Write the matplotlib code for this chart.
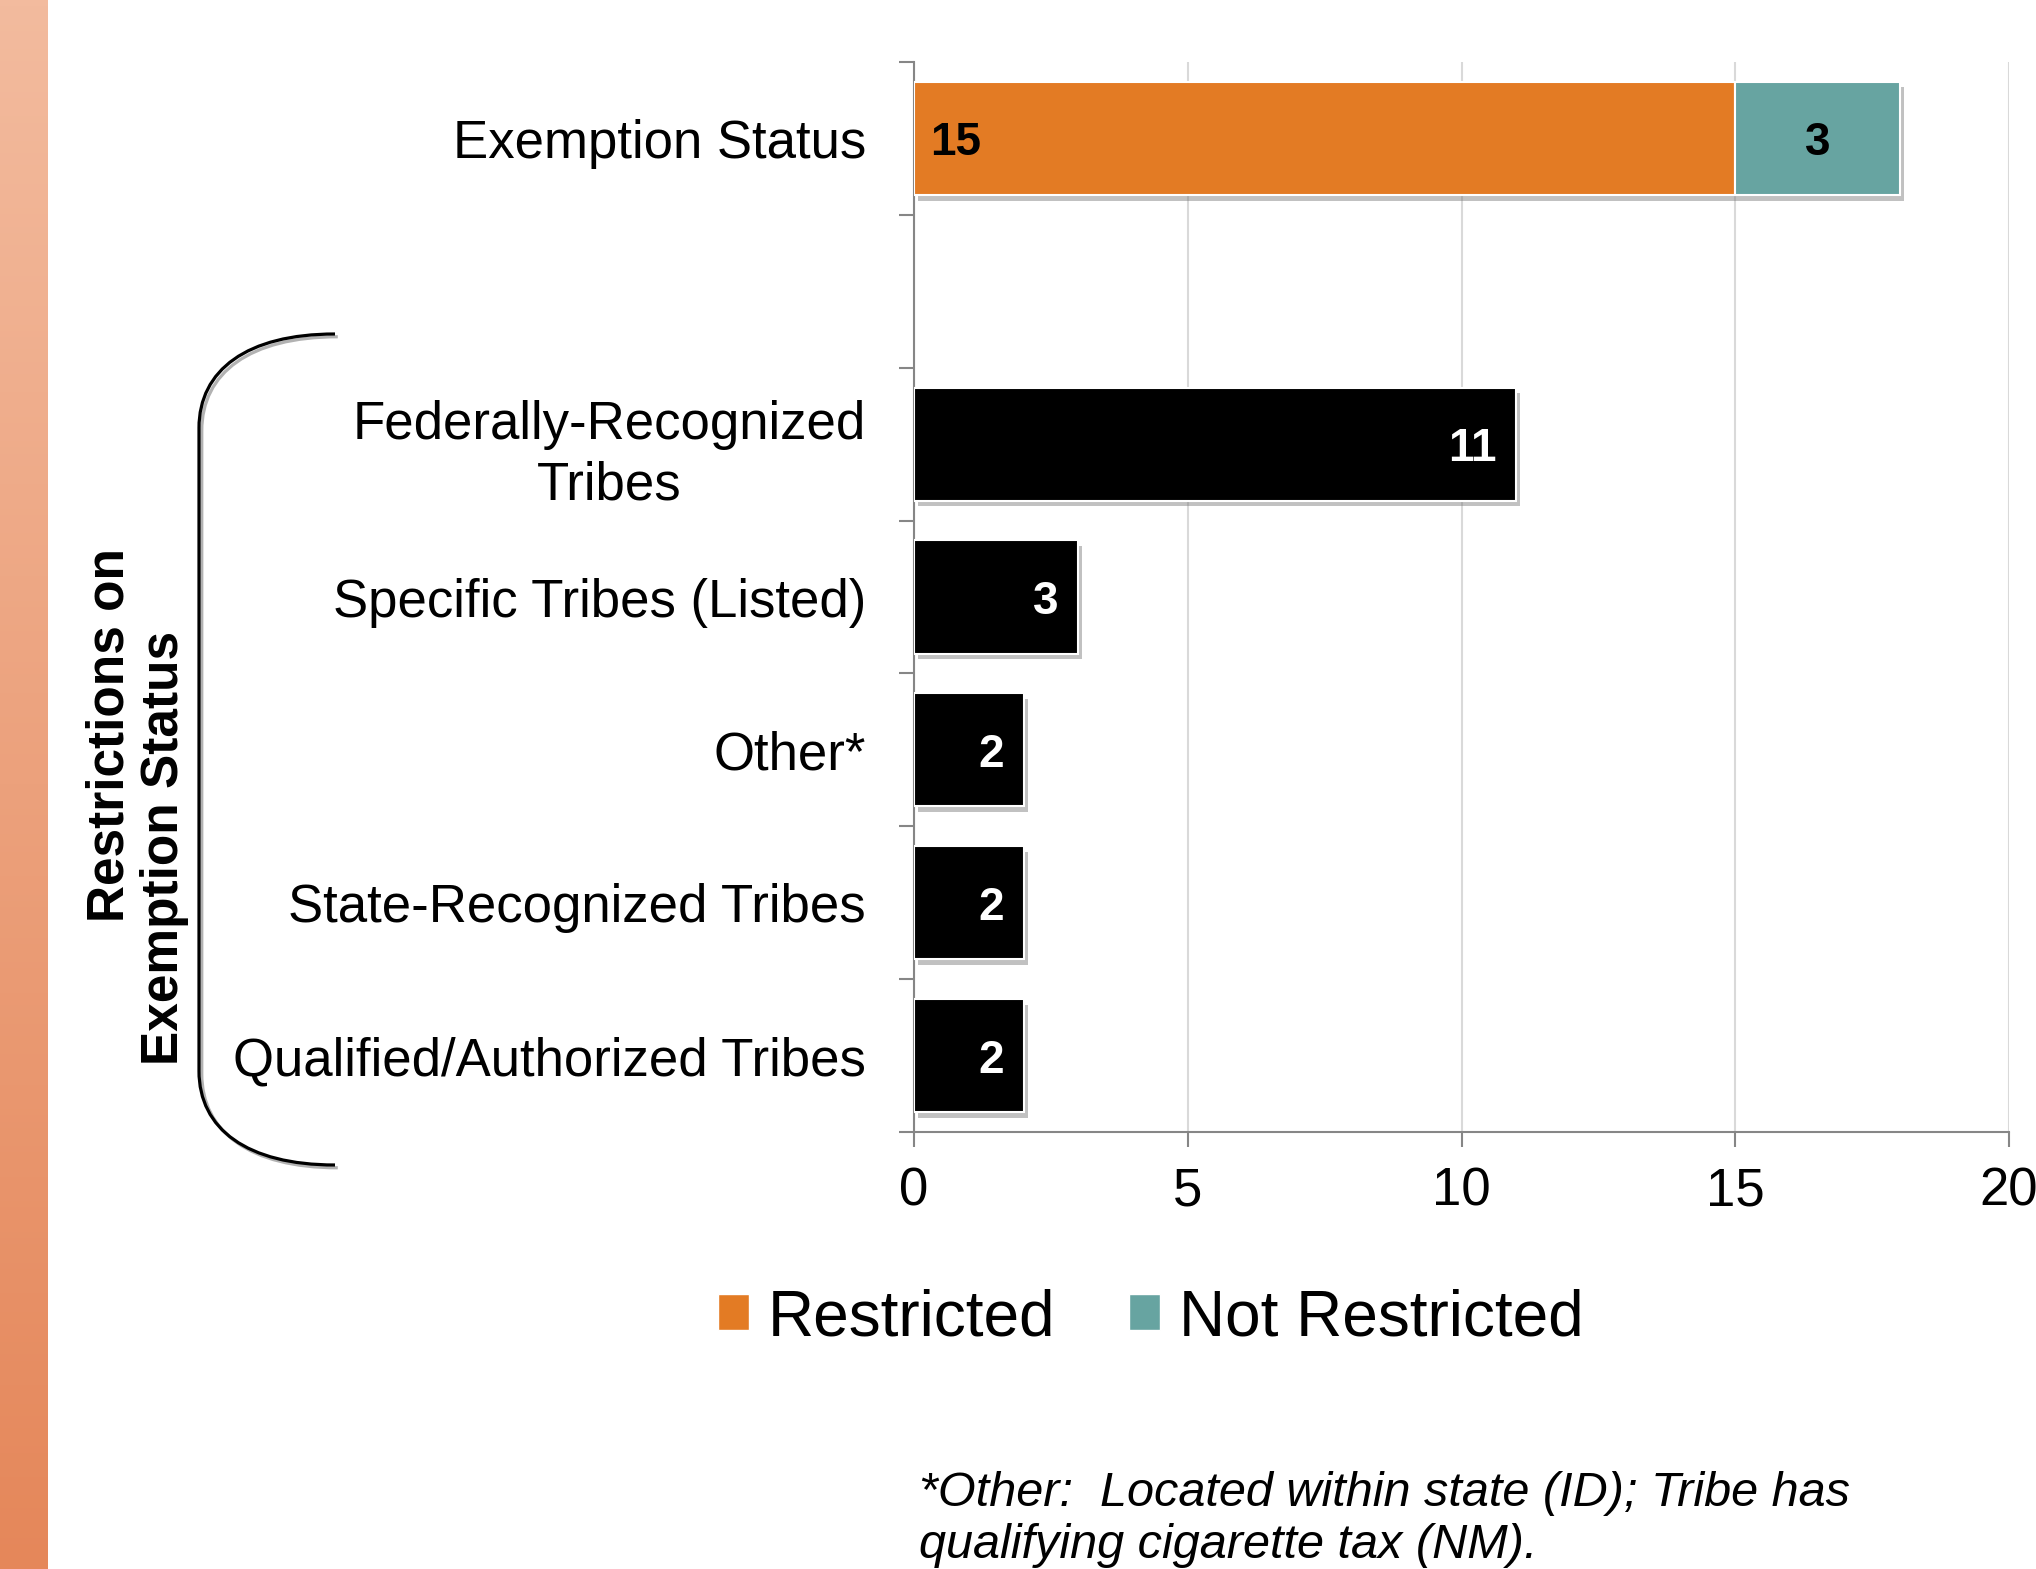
import numpy as np
import matplotlib
matplotlib.use("Agg")
import matplotlib.pyplot as plt
from matplotlib.patches import Patch, PathPatch
from matplotlib.path import Path
import matplotlib.patheffects as pe

# Data
rows = ["Exemption Status", "", "Federally-Recognized\nTribes", "Specific Tribes (Listed)",
        "Other*", "State-Recognized Tribes", "Qualified/Authorized Tribes"]
exempt_restricted = 15
exempt_not_restricted = 3
restriction_counts = [11, 3, 2, 2, 2]
x_ticks = [0, 5, 10, 15, 20]
legend_labels = ["Restricted", "Not Restricted"]
footnote = ["*Other:  Located within state (ID); Tribe has", "qualifying cigarette tax (NM)."]

ORANGE = "#E37B24"
TEAL = "#67A4A1"
GRAY = "#868686"
W, H = 2036, 1569

plt.rcParams["font.family"] = ["Liberation Sans", "DejaVu Sans"]

fig = plt.figure(figsize=(W / 100, H / 100), dpi=100)

# gradient strip on the left edge
strip = fig.add_axes([0, 0, 48 / W, 1])
grad = np.linspace(0, 1, 256)[:, None]
cmap = matplotlib.colors.LinearSegmentedColormap.from_list("strip", ["#F3BB9E", "#E5875A"])
strip.imshow(grad, aspect="auto", cmap=cmap, extent=[0, 1, 1, 0])
strip.axis("off")

ax = fig.add_axes([914 / W, 1 - 1132 / H, (2009 - 914) / W, (1132 - 62) / H])

shadow = [pe.SimplePatchShadow(offset=(3, -4), shadow_rgbFace="#777777", alpha=0.45), pe.Normal()]
bar_h = 0.74
ypos = np.arange(len(rows))

b1 = ax.barh(0, exempt_restricted, height=bar_h, color=ORANGE, edgecolor="white", linewidth=1.5, zorder=3)
b2 = ax.barh(0, exempt_not_restricted, left=exempt_restricted, height=bar_h, color=TEAL,
             edgecolor="white", linewidth=1.5, zorder=3)
b3 = ax.barh(ypos[2:], restriction_counts, height=bar_h, color="black", edgecolor="white",
             linewidth=1.5, zorder=3)
for b in list(b1) + list(b2) + list(b3):
    b.set_path_effects(shadow)

ax.annotate(str(exempt_restricted), (0, 0), xytext=(11.5, 0), textcoords="offset points",
            ha="left", va="center_baseline", fontsize=33, fontweight="bold", color="black", zorder=5)
ax.annotate(str(exempt_not_restricted), (exempt_restricted + exempt_not_restricted / 2, 0),
            ha="center", va="center_baseline", fontsize=33, fontweight="bold", color="black", zorder=5)
for y, v in zip(ypos[2:], restriction_counts):
    ax.annotate(str(v), (v, y), xytext=(-14.4, 0), textcoords="offset points",
                ha="right", va="center_baseline", fontsize=33, fontweight="bold", color="white", zorder=5)

ax.set_xlim(0, 20)
ax.set_ylim(len(rows) - 0.5, -0.5)
ax.set_xticks(x_ticks)
ax.set_xticklabels([str(t) for t in x_ticks], fontsize=38)
ax.set_yticks(ypos)
ax.set_yticklabels(rows, fontsize=38, linespacing=1.27, multialignment="center")
ax.set_yticks(np.arange(len(rows) + 1) - 0.5, minor=True)
ax.tick_params(axis="y", which="major", length=0, pad=34.5)
ax.tick_params(axis="y", which="minor", length=11, width=1.5, color=GRAY)
ax.tick_params(axis="x", length=11, width=1.5, color=GRAY, pad=14)
ax.grid(axis="x", color="#D9D9D9", linewidth=1.5, zorder=0)
ax.set_axisbelow(True)
for s in ["top", "right"]:
    ax.spines[s].set_visible(False)
for s in ["left", "bottom"]:
    ax.spines[s].set_color(GRAY)
    ax.spines[s].set_linewidth(1.5)

# brace around the restriction categories
def fp(x, y):
    return (x / W, 1 - y / H)

verts = [fp(335, 334), fp(247, 334), fp(199, 370), fp(199, 428), fp(199, 1071),
         fp(199, 1129), fp(247, 1165), fp(335, 1165)]
codes = [Path.MOVETO, Path.CURVE4, Path.CURVE4, Path.CURVE4, Path.LINETO,
         Path.CURVE4, Path.CURVE4, Path.CURVE4]
brace = PathPatch(Path(verts, codes), transform=fig.transFigure, fill=False, lw=2.3, color="black",
                  path_effects=[pe.SimpleLineShadow(offset=(2, -2), alpha=0.3), pe.Normal()])
fig.patches.append(brace)

fig.text(123 / W, 1 - 922 / H, "Restrictions on", rotation=90, rotation_mode="anchor",
         ha="left", va="baseline", fontsize=37, fontweight="bold")
fig.text(178 / W, 1 - 1065 / H, "Exemption Status", rotation=90, rotation_mode="anchor",
         ha="left", va="baseline", fontsize=37, fontweight="bold")

handles = [Patch(facecolor=ORANGE, edgecolor="white"), Patch(facecolor=TEAL, edgecolor="white")]
fig.legend(handles, legend_labels, loc="center", bbox_to_anchor=(1151 / W, 1 - 1318 / H), ncol=2,
           frameon=False, fontsize=46, handlelength=0.48, handleheight=0.48,
           handletextpad=0.3, columnspacing=1.15)

fig.text(919 / W, 1 - 1506 / H, footnote[0], fontsize=35, style="italic", va="baseline")
fig.text(919 / W, 1 - 1558 / H, footnote[1], fontsize=35, style="italic", va="baseline")

fig.savefig("out.png", dpi=100)
